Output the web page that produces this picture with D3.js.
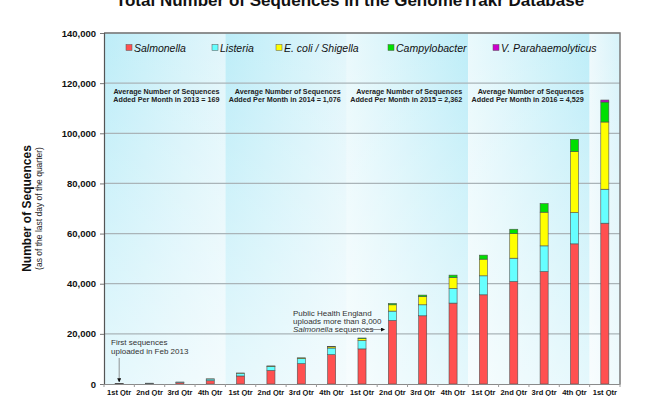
<!DOCTYPE html>
<html>
<head>
<meta charset="utf-8">
<script src="https://cdn.jsdelivr.net/npm/d3@7"></script>
<style>
  body { margin: 0; background: #fff; }
  svg { font-family: Arial, "Liberation Sans", sans-serif; }
</style>
</head>
<body>
<div id="chart"></div>
<script>
// quarters (x categories) and the year each one belongs to
const quarters = ['1st Qtr', '2nd Qtr', '3rd Qtr', '4th Qtr',
                  '1st Qtr', '2nd Qtr', '3rd Qtr', '4th Qtr',
                  '1st Qtr', '2nd Qtr', '3rd Qtr', '4th Qtr',
                  '1st Qtr', '2nd Qtr', '3rd Qtr', '4th Qtr',
                  '1st Qtr'];
const years = [2013, 2013, 2013, 2013, 2014, 2014, 2014, 2014,
               2015, 2015, 2015, 2015, 2016, 2016, 2016, 2016, 2017];

// cumulative sequences per organism at end of quarter
const salmonella = [100, 250, 600, 1300, 3200, 5400, 8100, 11700, 14000, 25340, 27210, 32270, 35580, 40880, 44860, 55900, 64140];
const listeria   = [20, 80, 200, 700, 1100, 1600, 2000, 2650, 3300, 3740, 4380, 5820, 7570, 9300, 10240, 12470, 13550];
const ecoli      = [0, 0, 0, 20, 80, 150, 250, 500, 800, 2510, 3310, 4380, 6650, 9800, 13430, 24300, 26810];
const campy      = [0, 0, 0, 0, 0, 20, 50, 100, 250, 520, 560, 960, 1600, 1750, 3420, 4930, 7970];
const vpara      = [0, 0, 0, 0, 0, 0, 0, 0, 0, 0, 0, 0, 0, 0, 0, 0, 800];

const seriesNames = ['Salmonella', 'Listeria', 'E. coli / Shigella', 'Campylobacter', 'V. Parahaemolyticus'];
const seriesColors = ['#ff5050', '#66ffff', '#ffff00', '#00e000', '#cc00cc'];

const yTicks = [0, 20000, 40000, 60000, 80000, 100000, 120000, 140000];

// yearly averages written at the top of each year band
const noteYears = [2013, 2014, 2015, 2016];
const noteAvgs = ['169', '1,076', '2,362', '4,529'];

const W = 660, H = 396;
const plotL = 104, plotR = 620, plotT = 33, plotB = 384;

const svg = d3.select('#chart').append('svg')
    .attr('width', W)
    .attr('height', H);

// rows for the stack
const rows = quarters.map((q, i) => ({
  i: i,
  'Salmonella': salmonella[i],
  'Listeria': listeria[i],
  'E. coli / Shigella': ecoli[i],
  'Campylobacter': campy[i],
  'V. Parahaemolyticus': vpara[i]
}));

const x = d3.scaleBand()
    .domain(d3.range(quarters.length))
    .range([plotL, plotR])
    .paddingInner(0.735)
    .paddingOuter(0.3675);

const y = d3.scaleLinear()
    .domain([0, 140000])
    .range([plotB, plotT]);

const step = x.step();
const edge = i => x(i) - (step - x.bandwidth()) / 2;

// gradients for the year bands
const defs = svg.append('defs');
function grad(id, c1, c2, vertical) {
  const g = defs.append('linearGradient').attr('id', id)
      .attr('x1', 0).attr('y1', 0)
      .attr('x2', vertical ? 0 : 1).attr('y2', vertical ? 1 : 0);
  g.append('stop').attr('offset', '0%').attr('stop-color', c1[0]).attr('stop-opacity', c1[1]);
  g.append('stop').attr('offset', '100%').attr('stop-color', c2[0]).attr('stop-opacity', c2[1]);
}
grad('cl', ['#bdedf8', 1], ['#e2f6fb', 1]);
grad('lc', ['#eaf9fc', 1], ['#bdedf8', 1]);
grad('lf', ['#eef9fc', 1], ['#d6f3fa', 1]);
grad('fade', ['#ffffff', 0], ['#ffffff', 0.6], true);

const yearList = Array.from(new Set(years));
const bandFill = { 2013: 'cl', 2014: 'cl', 2015: 'lc', 2016: 'lc', 2017: 'lf' };

svg.append('g').selectAll('rect')
  .data(yearList)
  .join('rect')
    .attr('x', yr => edge(years.indexOf(yr)))
    .attr('y', plotT)
    .attr('width', yr => step * years.filter(v => v === yr).length)
    .attr('height', plotB - plotT)
    .attr('fill', yr => `url(#${bandFill[yr]})`);

svg.append('rect')
    .attr('x', plotL).attr('y', plotT)
    .attr('width', plotR - plotL).attr('height', plotB - plotT)
    .attr('fill', 'url(#fade)');

// gridlines
svg.append('g').selectAll('line')
  .data(yTicks.filter(t => t > 0))
  .join('line')
    .attr('x1', plotL).attr('x2', plotR)
    .attr('y1', d => y(d)).attr('y2', d => y(d))
    .attr('stroke', '#aab4b8')
    .attr('stroke-width', 1.2);

// plot border (top / right)
svg.append('path')
    .attr('d', `M${plotL},${plotT}H${plotR}V${plotB}`)
    .attr('fill', 'none')
    .attr('stroke', '#7a7a7a')
    .attr('stroke-width', 1.5);

// stacked bars
const stack = d3.stack().keys(seriesNames);
const layers = stack(rows);

svg.append('g').selectAll('g')
  .data(layers)
  .join('g')
    .attr('fill', (d, i) => seriesColors[i])
  .selectAll('rect')
  .data(d => d.filter(p => p[1] - p[0] > 0))
  .join('rect')
    .attr('x', p => x(p.data.i))
    .attr('y', p => y(p[1]))
    .attr('width', x.bandwidth())
    .attr('height', p => y(p[0]) - y(p[1]))
    .attr('stroke', '#505050')
    .attr('stroke-width', 0.6);

// y axis
const yAxis = svg.append('g')
    .attr('transform', `translate(${plotL},0)`)
    .call(d3.axisLeft(y).tickValues(yTicks).tickFormat(d3.format(',')).tickSize(4).tickPadding(4));
yAxis.select('.domain').attr('stroke', '#555').attr('stroke-width', 1.2);
yAxis.selectAll('.tick line').attr('stroke', '#777');
yAxis.selectAll('.tick text')
    .attr('font-size', 9.5)
    .attr('font-weight', 'bold')
    .attr('fill', '#111')
    .attr('font-family', 'Arial, "Liberation Sans", sans-serif');

// x axis
const xAxis = svg.append('g')
    .attr('transform', `translate(0,${plotB})`)
    .call(d3.axisBottom(x).tickFormat(i => quarters[i]).tickSize(0).tickPadding(6));
xAxis.select('.domain').attr('stroke', '#8a8a8a').attr('stroke-width', 1.2);
xAxis.selectAll('.tick text')
    .attr('font-size', 7.5)
    .attr('font-weight', 'bold')
    .attr('fill', '#111')
    .attr('font-family', 'Arial, "Liberation Sans", sans-serif');
xAxis.selectAll('line.sep')
  .data(d3.range(quarters.length + 1))
  .join('line')
    .attr('class', 'sep')
    .attr('x1', i => plotL + i * step).attr('x2', i => plotL + i * step)
    .attr('y1', 0).attr('y2', 3)
    .attr('stroke', '#999');

// title
svg.append('text')
    .attr('x', 350).attr('y', 6)
    .attr('text-anchor', 'middle')
    .attr('font-size', 17)
    .attr('font-weight', 'bold')
    .attr('fill', '#111')
    .text('Total Number of Sequences in the GenomeTrakr Database');

// y titles
svg.append('text')
    .attr('transform', `translate(31,${(plotT + plotB) / 2}) rotate(-90)`)
    .attr('text-anchor', 'middle')
    .attr('font-size', 12)
    .attr('font-weight', 'bold')
    .attr('fill', '#111')
    .text('Number of Sequences');
svg.append('text')
    .attr('transform', `translate(42,${(plotT + plotB) / 2}) rotate(-90)`)
    .attr('text-anchor', 'middle')
    .attr('font-size', 8.5)
    .attr('fill', '#222')
    .text('(as of the last day of the quarter)');

// legend
const legendX = [126, 212, 276, 388, 493];
const legend = svg.append('g').selectAll('g')
  .data(seriesNames)
  .join('g')
    .attr('transform', (d, i) => `translate(${legendX[i]},48)`);
legend.append('rect')
    .attr('x', 0).attr('y', -3.5)
    .attr('width', 6).attr('height', 6)
    .attr('fill', (d, i) => seriesColors[i])
    .attr('stroke', '#555').attr('stroke-width', 0.5);
legend.append('text')
    .attr('x', 8).attr('y', 3.5)
    .attr('font-size', 10.5)
    .attr('font-style', 'italic')
    .attr('fill', '#111')
    .text(d => d);

// yearly average notes
const noteX = yr => edge(years.lastIndexOf(yr)) + step - 6;
const notes = svg.append('g').selectAll('text')
  .data(noteYears)
  .join('text')
    .attr('text-anchor', 'end')
    .attr('font-size', 7.2)
    .attr('font-weight', 'bold')
    .attr('fill', '#222');
notes.append('tspan').attr('y', 94).attr('x', noteX)
    .text('Average Number of Sequences');
notes.append('tspan').attr('y', 102).attr('x', noteX)
    .text((yr, k) => `Added Per Month in ${yr} = ${noteAvgs[k]}`);

// arrow marker
defs.append('marker')
    .attr('id', 'arr')
    .attr('viewBox', '0 0 6 6')
    .attr('refX', 5).attr('refY', 3)
    .attr('markerWidth', 5).attr('markerHeight', 5)
    .attr('orient', 'auto')
  .append('path')
    .attr('d', 'M0,0L6,3L0,6Z')
    .attr('fill', '#111');

// first sequences note
const n1 = svg.append('text')
    .attr('font-size', 8)
    .attr('fill', '#333');
n1.append('tspan').attr('x', 111).attr('y', 345).text('First sequences');
n1.append('tspan').attr('x', 111).attr('y', 354).text('uploaded in Feb 2013');
svg.append('line')
    .attr('x1', x(0) + x.bandwidth() / 2).attr('x2', x(0) + x.bandwidth() / 2)
    .attr('y1', 358).attr('y2', y(salmonella[0] + listeria[0]) - 2)
    .attr('stroke', '#777').attr('stroke-width', 0.8)
    .attr('marker-end', 'url(#arr)');

// Public Health England note
const n2 = svg.append('text')
    .attr('font-size', 8)
    .attr('fill', '#333');
n2.append('tspan').attr('x', 293).attr('y', 316).text('Public Health England');
n2.append('tspan').attr('x', 293).attr('y', 324).text('uploads more than 8,000');
const l3 = n2.append('tspan').attr('x', 293).attr('y', 332);
l3.append('tspan').attr('font-style', 'italic').text('Salmonella');
l3.append('tspan').text(' sequences');
svg.append('line')
    .attr('x1', 364).attr('x2', x(9) - 4)
    .attr('y1', 329.5).attr('y2', 329.5)
    .attr('stroke', '#777').attr('stroke-width', 0.8)
    .attr('marker-end', 'url(#arr)');
</script>
</body>
</html>
